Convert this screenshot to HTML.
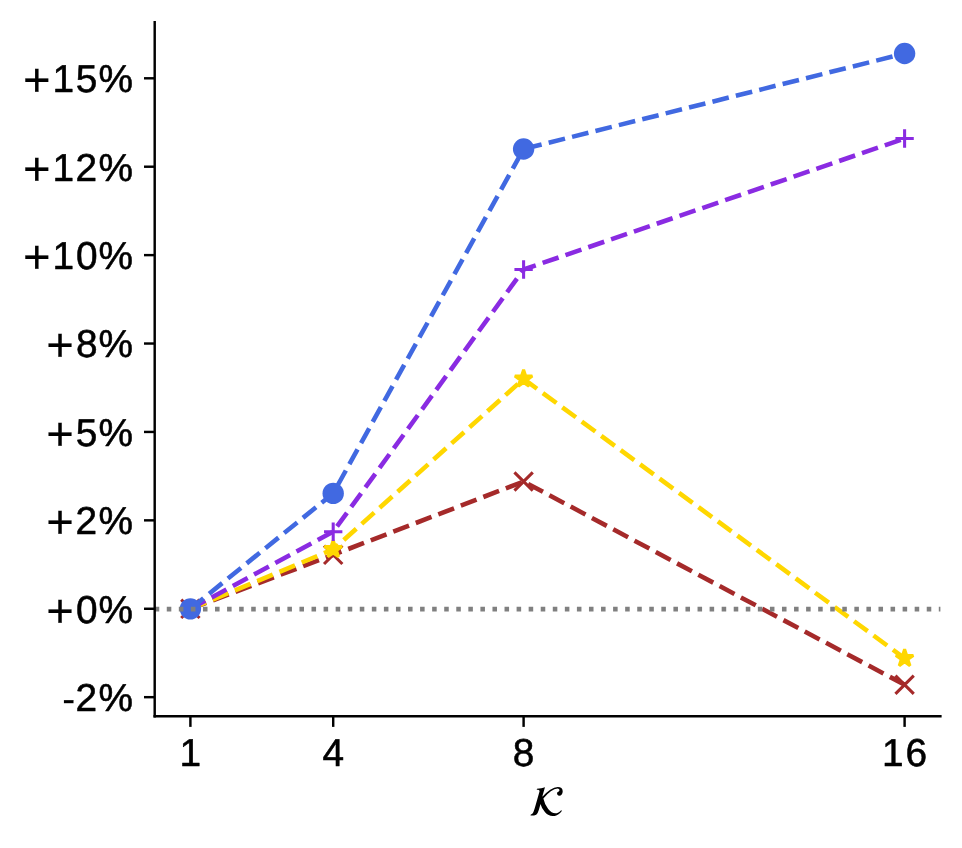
<!DOCTYPE html>
<html lang="en"><head><meta charset="utf-8"><title>Relative improvement vs K</title>
<style>html,body{margin:0;padding:0;background:#fff}body{width:962px;height:848px;overflow:hidden}svg{display:block;will-change:transform}</style>
</head><body>
<svg width="962" height="848" viewBox="0 0 962 848">
<rect width="962" height="848" fill="#ffffff"/>
<polyline points="190.40,608.85 333.20,554.80 523.60,481.50 904.60,684.75" fill="none" stroke="#a52a2a" stroke-width="4.58" stroke-dasharray="16.84 7.28" stroke-linejoin="round"/>
<path d="M181.23 599.68L199.57 618.02M181.23 618.02L199.57 599.68" stroke="#a52a2a" stroke-width="3.06" fill="none"/>
<path d="M324.03 545.63L342.37 563.97M324.03 563.97L342.37 545.63" stroke="#a52a2a" stroke-width="3.06" fill="none"/>
<path d="M514.43 472.33L532.77 490.67M514.43 490.67L532.77 472.33" stroke="#a52a2a" stroke-width="3.06" fill="none"/>
<path d="M895.43 675.58L913.77 693.92M895.43 693.92L913.77 675.58" stroke="#a52a2a" stroke-width="3.06" fill="none"/>
<polyline points="190.40,608.85 333.20,549.40 523.60,378.90 904.60,658.30" fill="none" stroke="#ffd700" stroke-width="4.58" stroke-dasharray="16.84 7.28" stroke-linejoin="round"/>
<polygon points="190.40,599.68 188.34,606.02 181.68,606.02 187.07,609.93 185.01,616.27 190.40,612.35 195.79,616.27 193.73,609.93 199.12,606.02 192.46,606.02" fill="#ffd700" stroke="#ffd700" stroke-width="3.06" stroke-linejoin="bevel"/>
<polygon points="333.20,540.23 331.14,546.57 324.48,546.57 329.87,550.48 327.81,556.82 333.20,552.90 338.59,556.82 336.53,550.48 341.92,546.57 335.26,546.57" fill="#ffd700" stroke="#ffd700" stroke-width="3.06" stroke-linejoin="bevel"/>
<polygon points="523.60,369.73 521.54,376.07 514.88,376.07 520.27,379.98 518.21,386.32 523.60,382.40 528.99,386.32 526.93,379.98 532.32,376.07 525.66,376.07" fill="#ffd700" stroke="#ffd700" stroke-width="3.06" stroke-linejoin="bevel"/>
<polygon points="904.60,649.13 902.54,655.47 895.88,655.47 901.27,659.38 899.21,665.72 904.60,661.80 909.99,665.72 907.93,659.38 913.32,655.47 906.66,655.47" fill="#ffd700" stroke="#ffd700" stroke-width="3.06" stroke-linejoin="bevel"/>
<polyline points="190.40,608.85 333.20,531.75 523.60,269.50 904.60,138.50" fill="none" stroke="#8a2be2" stroke-width="4.58" stroke-dasharray="16.84 7.28" stroke-linejoin="round"/>
<path d="M181.23 608.85H199.57M190.40 599.68V618.02" stroke="#8a2be2" stroke-width="3.06" fill="none"/>
<path d="M324.03 531.75H342.37M333.20 522.58V540.92" stroke="#8a2be2" stroke-width="3.06" fill="none"/>
<path d="M514.43 269.50H532.77M523.60 260.33V278.67" stroke="#8a2be2" stroke-width="3.06" fill="none"/>
<path d="M895.43 138.50H913.77M904.60 129.33V147.67" stroke="#8a2be2" stroke-width="3.06" fill="none"/>
<polyline points="190.40,608.85 333.20,493.40 523.60,149.00 904.60,53.50" fill="none" stroke="#4169e1" stroke-width="4.58" stroke-dasharray="16.84 7.28" stroke-linejoin="round"/>
<circle cx="190.40" cy="608.85" r="10.69" fill="#4169e1"/>
<circle cx="333.20" cy="493.40" r="10.69" fill="#4169e1"/>
<circle cx="523.60" cy="149.00" r="10.69" fill="#4169e1"/>
<circle cx="904.60" cy="53.50" r="10.69" fill="#4169e1"/>
<line x1="154.70" y1="609.10" x2="940.40" y2="609.10" stroke="#808080" stroke-width="4.58" stroke-dasharray="4.550 7.513"/>
<g stroke="#000" stroke-width="2.44" fill="none">
<path d="M154.70 22.30V716.20" stroke-linecap="square"/>
<path d="M154.70 716.20H940.40" stroke-linecap="square"/>
<path d="M154.70 78.30H144.01"/>
<path d="M154.70 166.71H144.01"/>
<path d="M154.70 255.12H144.01"/>
<path d="M154.70 343.53H144.01"/>
<path d="M154.70 431.94H144.01"/>
<path d="M154.70 520.35H144.01"/>
<path d="M154.70 608.76H144.01"/>
<path d="M154.70 697.17H144.01"/>
<path d="M190.40 716.20V726.89"/>
<path d="M333.20 716.20V726.89"/>
<path d="M523.60 716.20V726.89"/>
<path d="M904.60 716.20V726.89"/>
</g>
<g font-family="'Liberation Sans', sans-serif" font-size="38.85" fill="#000" stroke="#000" stroke-width="0.55" stroke-linejoin="round" text-rendering="geometricPrecision">
<text y="91.90"><tspan x="23.02" dy="4.01" font-size="47.23" stroke-width="0.15">+</tspan><tspan x="52.44" dy="-4.01">1</tspan><tspan x="75.81">5</tspan><tspan x="98.54">%</tspan></text>
<text y="180.90"><tspan x="23.02" dy="4.01" font-size="47.23" stroke-width="0.15">+</tspan><tspan x="52.44" dy="-4.01">1</tspan><tspan x="75.46">2</tspan><tspan x="98.54">%</tspan></text>
<text y="268.90"><tspan x="23.02" dy="4.01" font-size="47.23" stroke-width="0.15">+</tspan><tspan x="52.44" dy="-4.01">1</tspan><tspan x="75.96">0</tspan><tspan x="98.54">%</tspan></text>
<text y="357.30"><tspan x="46.34" dy="4.01" font-size="47.23" stroke-width="0.15">+</tspan><tspan x="75.96" dy="-4.01">8</tspan><tspan x="98.54">%</tspan></text>
<text y="445.90"><tspan x="46.34" dy="4.01" font-size="47.23" stroke-width="0.15">+</tspan><tspan x="75.81" dy="-4.01">5</tspan><tspan x="98.54">%</tspan></text>
<text y="533.90"><tspan x="46.34" dy="4.01" font-size="47.23" stroke-width="0.15">+</tspan><tspan x="75.46" dy="-4.01">2</tspan><tspan x="98.54">%</tspan></text>
<text y="622.90"><tspan x="46.34" dy="4.01" font-size="47.23" stroke-width="0.15">+</tspan><tspan x="75.96" dy="-4.01">0</tspan><tspan x="98.54">%</tspan></text>
<text y="710.90"><tspan x="62.31" dy="0.60" stroke-width="0.1">-</tspan><tspan x="75.46" dy="-0.60">2</tspan><tspan x="98.54">%</tspan></text>
<text y="765.80"><tspan x="179.40">1</tspan></text>
<text y="765.80"><tspan x="322.39">4</tspan></text>
<text y="765.80"><tspan x="512.80">8</tspan></text>
<text y="765.80"><tspan x="881.94">1</tspan><tspan x="905.45">6</tspan></text>
</g>
<path transform="translate(529.22 815.54) scale(0.4278)" fill="#000" d="M30.80 -44.91L31.41 -44.59Q39.50 -53.59 49.09 -60.30Q58.70 -67.00 66.80 -67.00Q72.20 -67.00 75.25 -64.14Q78.30 -61.30 78.30 -56.59Q78.30 -52.41 76.00 -49.34Q73.70 -46.30 70.09 -46.30Q67.91 -46.30 66.50 -47.80Q65.09 -49.30 65.09 -51.41Q65.09 -53.30 65.94 -54.39Q66.80 -55.50 67.84 -55.84Q68.91 -56.20 69.75 -57.00Q70.59 -57.80 70.59 -59.09Q70.59 -60.59 69.39 -61.80Q68.20 -63.00 66.09 -63.00Q59.20 -63.00 50.50 -56.80Q41.80 -50.59 33.09 -40.09Q36.50 -24.80 44.30 -15.00Q52.09 -5.20 61.00 -5.20Q64.41 -5.20 68.30 -7.25Q72.20 -9.30 74.50 -12.59L76.50 -11.00Q73.80 -7.41 71.39 -5.09Q69.00 -2.80 64.50 -0.75Q60.00 1.30 54.50 1.30Q45.09 1.30 37.05 -7.45Q29.00 -16.20 26.41 -26.70L22.41 -12.70Q20.00 -4.09 16.39 -2.05Q12.80 -0.00 3.00 -0.00L3.70 -2.41Q6.70 -2.41 8.70 -5.84Q10.70 -9.30 13.41 -18.70L23.70 -54.91Q24.09 -56.09 24.09 -57.20Q24.09 -60.20 19.41 -60.20Q18.30 -60.20 17.59 -60.09L18.09 -62.59Q29.41 -63.80 36.80 -66.20L30.80 -44.91Z"/>
</svg>
</body></html>
